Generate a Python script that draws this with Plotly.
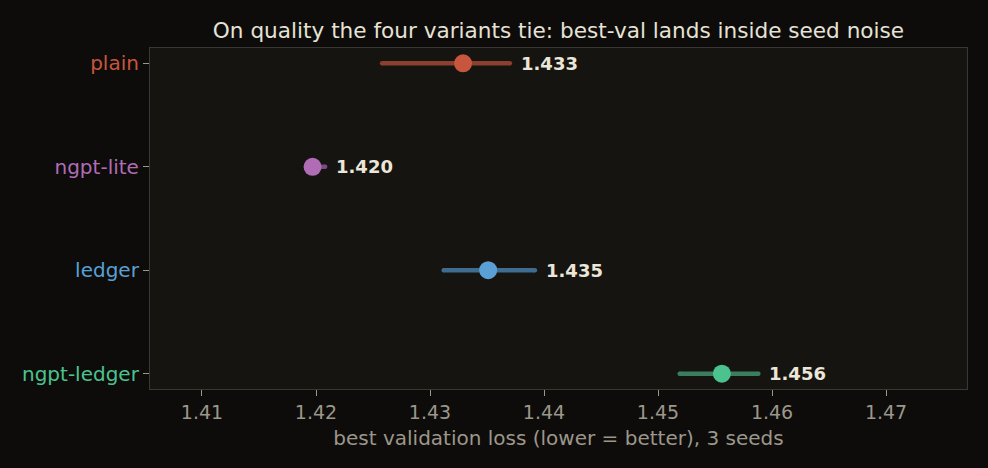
import plotly.graph_objects as go

variants = ["plain", "ngpt-lite", "ledger", "ngpt-ledger"]
best_val = [1.4329, 1.4197, 1.4351, 1.4556]
seed_min = [1.4258, 1.4195, 1.4312, 1.4519]
seed_max = [1.4370, 1.4208, 1.4392, 1.4588]
labels = ["1.433", "1.420", "1.435", "1.456"]
dot_colors = ["#c8553d", "#b06db5", "#5aa0d4", "#4cc38e"]
bar_colors = ["#8c3f2e", "#7d4a83", "#3f6c8f", "#3a7e5e"]
xticks = [1.41, 1.42, 1.43, 1.44, 1.45, 1.46, 1.47]

fig = go.Figure()
for i, v in enumerate(variants):
    fig.add_trace(go.Scatter(
        x=[seed_min[i], seed_max[i]], y=[i, i], mode="lines+markers",
        line=dict(color=bar_colors[i], width=4.5),
        marker=dict(color=bar_colors[i], size=4.5),
        hoverinfo="skip", showlegend=False))
    fig.add_trace(go.Scatter(
        x=[best_val[i]], y=[i], mode="markers",
        marker=dict(color=dot_colors[i], size=18),
        showlegend=False, name=v))
    fig.add_annotation(x=seed_max[i], y=i, text="<b>%s</b>" % labels[i],
                       xanchor="left", yanchor="middle", xshift=9, showarrow=False,
                       font=dict(color="#ebe6d8", size=18, family="DejaVu Sans"))

fig.update_layout(
    width=988, height=468,
    margin=dict(l=150, r=21, t=48, b=79),
    paper_bgcolor="#0d0c0a", plot_bgcolor="#151410",
    font=dict(family="DejaVu Sans", color="#9c978a", size=19),
    title=dict(text="On quality the four variants tie: best-val lands inside seed noise",
               x=0.5, xref="paper", xanchor="center", y=0.935, yanchor="middle",
               font=dict(size=21.6, color="#e6e2d6")),
    xaxis=dict(range=[1.40544, 1.4771], tickvals=xticks,
               ticktext=["%.2f" % t for t in xticks],
               showgrid=False, zeroline=False, showline=True, mirror=True,
               linecolor="#3a3833", linewidth=1.2, ticks="outside", ticklen=6,
               tickcolor="#9c978a", tickfont=dict(size=19, color="#9c978a"),
               title=dict(text="best validation loss (lower = better), 3 seeds",
                          font=dict(size=20, color="#9c978a"), standoff=9)),
    yaxis=dict(range=[3.148, -0.148], tickvals=list(range(len(variants))),
               ticktext=['<span style="color:%s">%s</span>' % (c, v) for c, v in zip(dot_colors, variants)],
               showgrid=False, zeroline=False, showline=True, mirror=True,
               linecolor="#3a3833", linewidth=1.2, ticks="outside", ticklen=6,
               tickcolor="#9c978a", tickfont=dict(size=20)),
)
fig.write_html("out.html")
